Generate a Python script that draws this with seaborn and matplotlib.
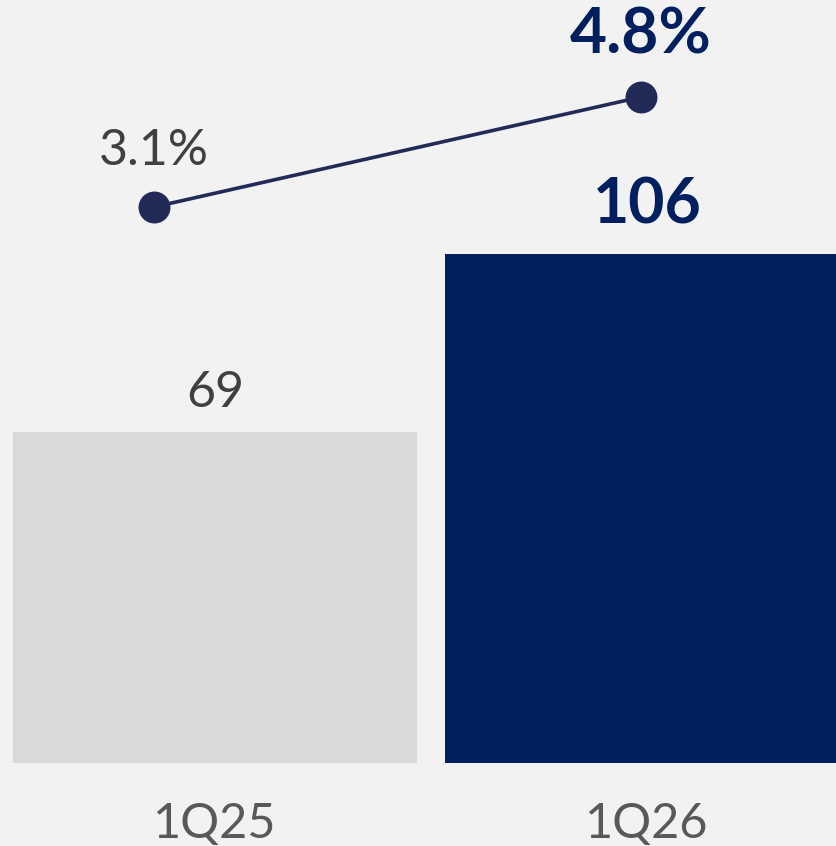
import matplotlib
matplotlib.use("Agg")
import matplotlib.pyplot as plt
import seaborn as sns
import pandas as pd

# Quarterly values
quarters = ["1Q25", "1Q26"]
amounts = [69, 106]
rates = [3.1, 4.8]
amount_labels = ["69", "106"]
rate_labels = ["3.1%", "4.8%"]

BG = "#f2f2f2"
NAVY = "#001f5f"
LINE = "#222a57"
LIGHT = "#d9d9d9"
DARK_TXT = "#404040"
TICK_TXT = "#595959"

sns.set_theme(style="white")
plt.rcParams["font.family"] = ["Lato", "DejaVu Sans"]

W, H = 836, 846
fig = plt.figure(figsize=(W / 100, H / 100), dpi=100, facecolor=BG)

# Bar axes: spans the full width, baseline at the bottom edge of the axes
base_px = 763
ax = fig.add_axes([0, (H - base_px) / H, 1, base_px / H])
ax.set_facecolor(BG)
df = pd.DataFrame({"quarter": quarters, "amount": amounts})
sns.barplot(data=df, x="quarter", y="amount", hue="quarter",
            palette=[LIGHT, NAVY], width=0.935, legend=False, ax=ax,
            saturation=1, linewidth=0, edgecolor="none")
unit = 432.0
ax.set_xlim(-215 / unit, (W - 215) / unit)
ax.set_ylim(0, base_px / 4.8)
for s in ax.spines.values():
    s.set_visible(False)
ax.set_yticks([])
ax.set_xlabel("")
ax.set_ylabel("")
ax.tick_params(axis="x", length=0, pad=28, labelsize=35, labelcolor=TICK_TXT)

label_styles = [dict(color=DARK_TXT, fontsize=36, fontweight="normal", off=28),
                dict(color=NAVY, fontsize=45, fontweight="bold", off=35)]
for i, (v, t) in enumerate(zip(amounts, amount_labels)):
    st = label_styles[i]
    ax.annotate(t, (i, v), xytext=(0, st["off"]), textcoords="offset points",
                ha="center", va="center", color=st["color"],
                fontsize=st["fontsize"], fontweight=st["fontweight"])

# Rate line on its own overlay axes
ax2 = fig.add_axes([0, 0, 1, 1])
ax2.patch.set_alpha(0)
lunit = 487.0
ypx = 64.7
zero_px = 207 + 3.1 * ypx
sns.lineplot(x=[0, 1], y=rates, color=LINE, linewidth=2.6, marker="o",
             markersize=23, markeredgewidth=0, ax=ax2)
ax2.set_xlim(-154 / lunit, (W - 154) / lunit)
ax2.set_ylim(-(H - zero_px) / ypx, zero_px / ypx)
ax2.axis("off")

rate_styles = [dict(color=DARK_TXT, fontsize=36, fontweight="normal", off=40),
               dict(color=NAVY, fontsize=46, fontweight="bold", off=45)]
for i, (v, t) in enumerate(zip(rates, rate_labels)):
    st = rate_styles[i]
    ax2.annotate(t, (i, v), xytext=(0, st["off"]), textcoords="offset points",
                 ha="center", va="center", color=st["color"],
                 fontsize=st["fontsize"], fontweight=st["fontweight"])

fig.savefig("out.png", dpi=100, facecolor=BG)
